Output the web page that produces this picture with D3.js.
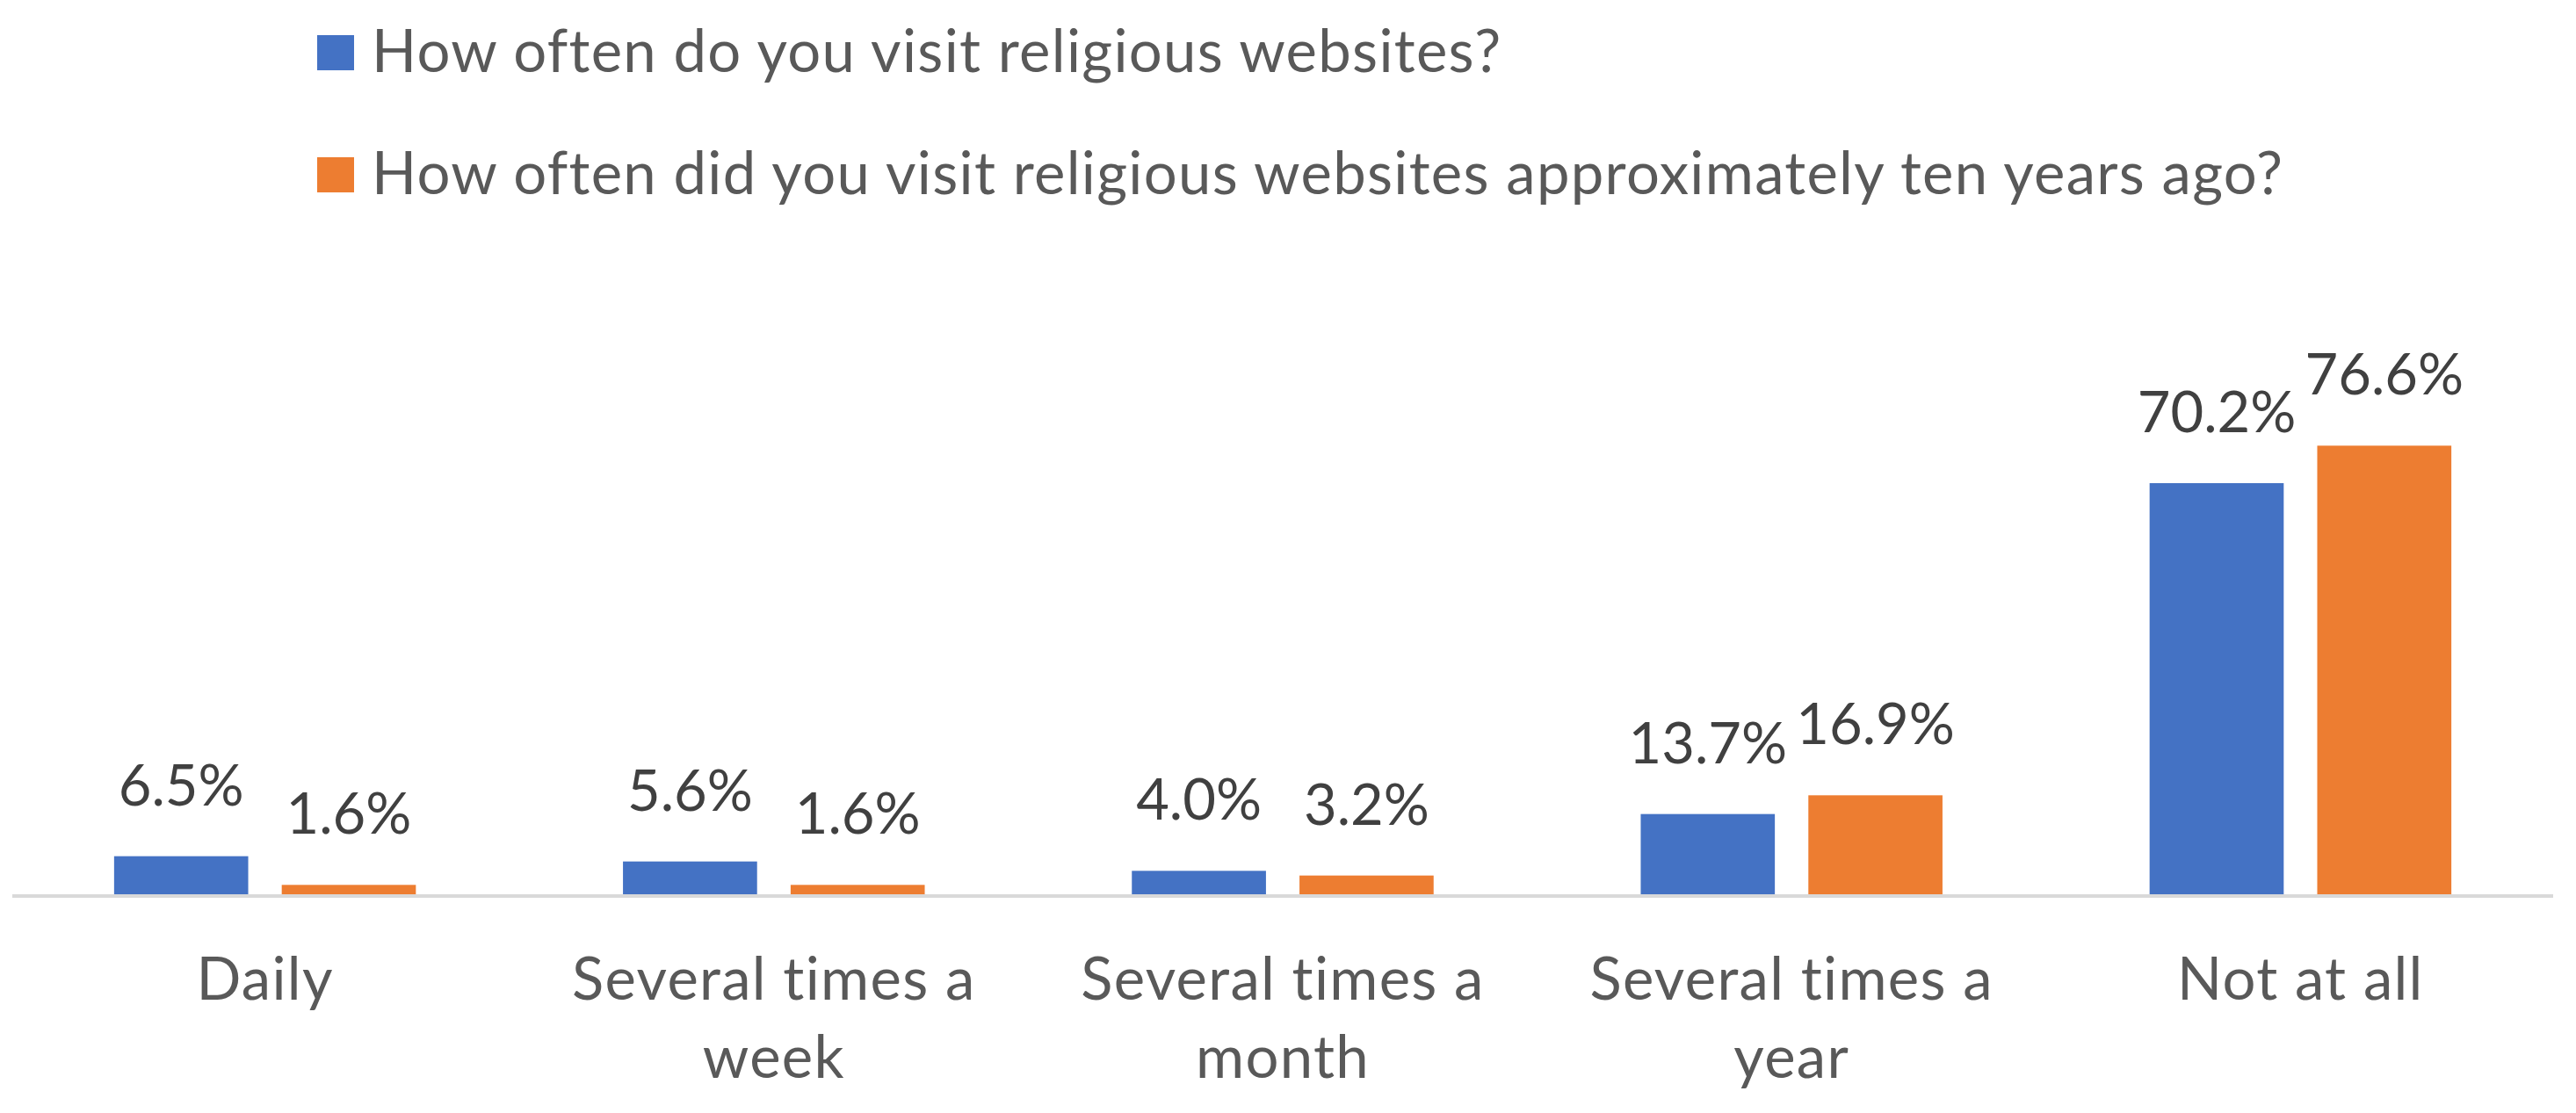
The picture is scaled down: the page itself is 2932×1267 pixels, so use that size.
<!DOCTYPE html>
<html>
<head>
<meta charset="utf-8">
<script src="https://cdn.jsdelivr.net/npm/d3@7"></script>
<style>
  body { margin: 0; background: #fff; }
  text { font-family: Lato, "Liberation Sans", sans-serif; }
</style>
</head>
<body>
<svg id="chart" width="2932" height="1267"></svg>
<script>
const categories = ['Daily', 'Several times a week', 'Several times a month', 'Several times a year', 'Not at all'];
const seriesNames = [
    'How often do you visit religious websites?',
    'How often did you visit religious websites approximately ten years ago?'
];
const nowValues = [6.5, 5.6, 4.0, 13.7, 70.2];
const tenYearsAgoValues = [1.6, 1.6, 3.2, 16.9, 76.6];
const colors = ['#4472C4', '#ED7D31'];

const svg = d3.select('#chart');
const baseY = 1018;
const fontSize = 67;
const valueFontSize = 65;

const x0 = d3.scaleBand()
    .domain(categories)
    .range([12, 2908])
    .paddingInner(0.407)
    .paddingOuter(0.2035);

const x1 = d3.scaleBand()
    .domain(d3.range(seriesNames.length))
    .range([0, x0.bandwidth()])
    .paddingInner(0.2);

const y = d3.scaleLinear()
    .domain([0, 90])
    .range([baseY, 418]);

const rows = categories.map((c, i) => ({
    category: c,
    values: [nowValues[i], tenYearsAgoValues[i]]
}));

// bars
const groups = svg.append('g')
    .attr('class', 'groups')
    .selectAll('g')
    .data(rows)
    .enter()
    .append('g')
    .attr('transform', d => `translate(${x0(d.category)},0)`);

groups.selectAll('rect')
    .data(d => d.values.map((v, i) => ({ v, i })))
    .enter()
    .append('rect')
    .attr('x', d => x1(d.i))
    .attr('y', d => y(d.v))
    .attr('width', x1.bandwidth())
    .attr('height', d => y(0) - y(d.v))
    .style('fill', d => colors[d.i]);

// data labels
groups.selectAll('text.value')
    .data(d => d.values.map((v, i) => ({ v, i })))
    .enter()
    .append('text')
    .attr('class', 'value')
    .attr('x', d => x1(d.i) + x1.bandwidth() / 2)
    .attr('y', d => y(d.v) - 58)
    .attr('text-anchor', 'middle')
    .style('font-size', valueFontSize + 'px')
    .style('fill', '#404040')
    .text(d => d3.format('.1f')(d.v) + '%');

// x axis line
svg.append('line')
    .attr('x1', 14)
    .attr('x2', 2906)
    .attr('y1', baseY + 2)
    .attr('y2', baseY + 2)
    .style('stroke', '#d9d9d9')
    .style('stroke-width', 4);

// category labels, wrapped like excel does
const wrap = (textSel, width) => {
    textSel.each(function () {
        const text = d3.select(this);
        const words = text.text().split(/\s+/);
        const xPos = text.attr('x');
        let line = [];
        let tspan = text.text(null).append('tspan').attr('x', xPos).attr('dy', 0);
        words.forEach((w) => {
            line.push(w);
            tspan.text(line.join(' '));
            if (tspan.node().getComputedTextLength() > width && line.length > 1) {
                line.pop();
                tspan.text(line.join(' '));
                line = [w];
                tspan = text.append('tspan').attr('x', xPos).attr('dy', 89).text(w);
            }
        });
    });
};

svg.append('g')
    .attr('class', 'categories')
    .selectAll('text')
    .data(categories)
    .enter()
    .append('text')
    .attr('x', d => x0(d) + x0.bandwidth() / 2)
    .attr('y', 1138)
    .attr('text-anchor', 'middle')
    .style('font-size', fontSize + 'px')
    .style('letter-spacing', '1.3px')
    .style('fill', '#595959')
    .text(d => d)
    .call(wrap, 560);

// legend
const legend = svg.append('g')
    .attr('class', 'legend')
    .selectAll('g')
    .data(seriesNames)
    .enter()
    .append('g')
    .attr('transform', (d, i) => `translate(361,${40 + i * 139})`);

legend.append('rect')
    .attr('width', 42)
    .attr('height', 40)
    .style('fill', (d, i) => colors[i]);

legend.append('text')
    .attr('x', 62)
    .attr('y', 42)
    .style('font-size', fontSize + 'px')
    .style('letter-spacing', '1.3px')
    .style('fill', '#595959')
    .text(d => d);
</script>
</body>
</html>
